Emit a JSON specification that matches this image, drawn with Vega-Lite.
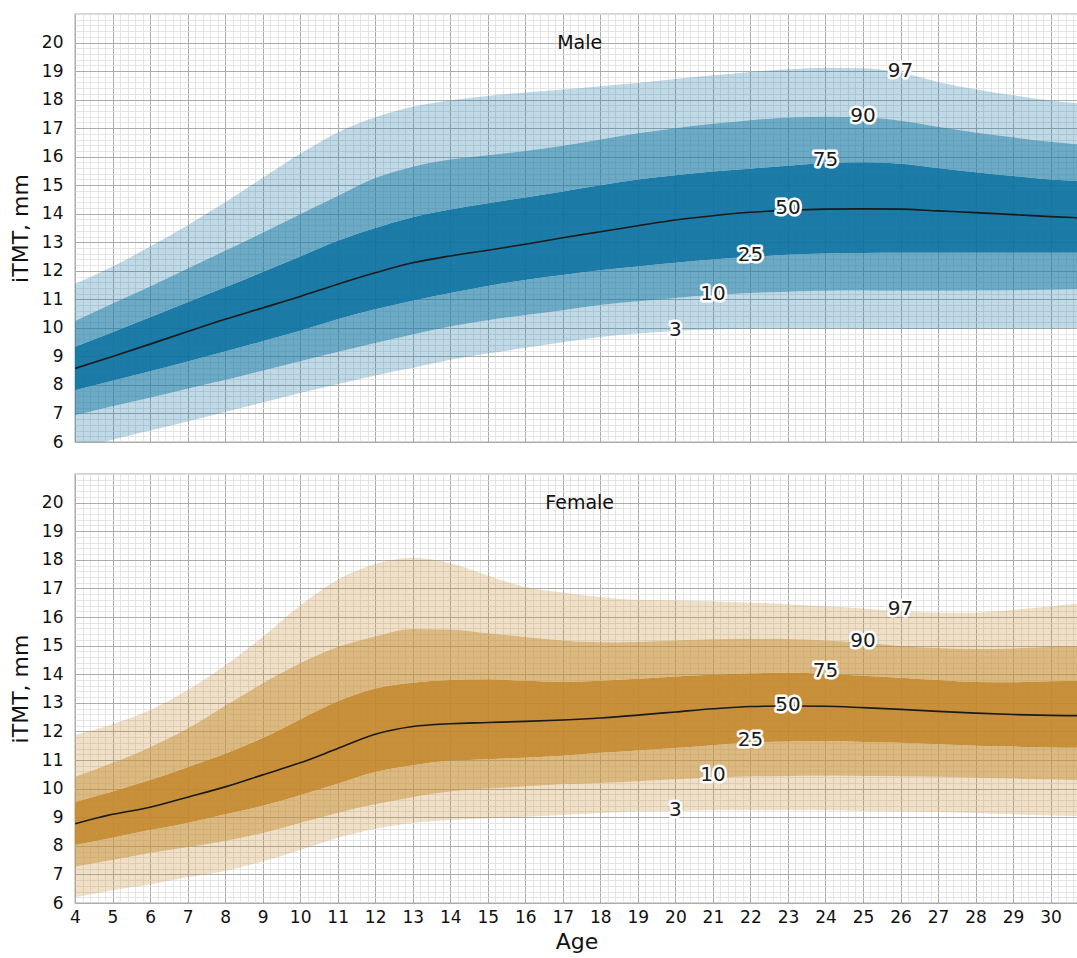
{
"$schema": "https://vega.github.io/schema/vega-lite/v6.json",
"autosize": {"type": "pad"},
"padding": {"left": 8, "top": 13, "right": 0, "bottom": 0},
"background": "white",
"bounds": "flush",
"spacing": 32,
"config": {
 "font": "DejaVu Sans",
 "view": {"stroke": "#c8c8c8", "strokeWidth": 1.5},
 "axis": {"labelFont": "DejaVu Sans", "titleFont": "DejaVu Sans", "labelFontSize": 17, "titleFontSize": 22, "titleFontWeight": "normal", "labelColor": "#111111", "titleColor": "#111111", "ticks": false, "domain": false, "labelFlush": false, "labelOverlap": false, "gridOpacity": 1}
},
"datasets": {
 "male": [
  {"age": 4, "p3": 5.77, "p10": 6.94, "p25": 7.81, "p50": 8.58, "p75": 9.34, "p90": 10.24, "p97": 11.54},
  {"age": 5, "p3": 6.08, "p10": 7.25, "p25": 8.15, "p50": 9.0, "p75": 9.85, "p90": 10.85, "p97": 12.15},
  {"age": 6, "p3": 6.4, "p10": 7.55, "p25": 8.48, "p50": 9.43, "p75": 10.37, "p90": 11.45, "p97": 12.85},
  {"age": 7, "p3": 6.72, "p10": 7.87, "p25": 8.82, "p50": 9.87, "p75": 10.9, "p90": 12.08, "p97": 13.6},
  {"age": 8, "p3": 7.05, "p10": 8.17, "p25": 9.17, "p50": 10.3, "p75": 11.42, "p90": 12.7, "p97": 14.4},
  {"age": 9, "p3": 7.38, "p10": 8.5, "p25": 9.53, "p50": 10.7, "p75": 11.96, "p90": 13.33, "p97": 15.25},
  {"age": 10, "p3": 7.72, "p10": 8.83, "p25": 9.9, "p50": 11.1, "p75": 12.5, "p90": 13.98, "p97": 16.1},
  {"age": 11, "p3": 8.02, "p10": 9.15, "p25": 10.3, "p50": 11.53, "p75": 13.05, "p90": 14.62, "p97": 16.85},
  {"age": 12, "p3": 8.33, "p10": 9.47, "p25": 10.65, "p50": 11.93, "p75": 13.5, "p90": 15.25, "p97": 17.38},
  {"age": 13, "p3": 8.6, "p10": 9.77, "p25": 10.95, "p50": 12.28, "p75": 13.88, "p90": 15.65, "p97": 17.75},
  {"age": 14, "p3": 8.88, "p10": 10.05, "p25": 11.22, "p50": 12.52, "p75": 14.15, "p90": 15.9, "p97": 17.98},
  {"age": 15, "p3": 9.1, "p10": 10.27, "p25": 11.47, "p50": 12.72, "p75": 14.37, "p90": 16.05, "p97": 18.13},
  {"age": 16, "p3": 9.3, "p10": 10.45, "p25": 11.68, "p50": 12.93, "p75": 14.57, "p90": 16.2, "p97": 18.25},
  {"age": 17, "p3": 9.5, "p10": 10.62, "p25": 11.85, "p50": 13.16, "p75": 14.78, "p90": 16.38, "p97": 18.35},
  {"age": 18, "p3": 9.68, "p10": 10.8, "p25": 12.02, "p50": 13.37, "p75": 15.0, "p90": 16.6, "p97": 18.47},
  {"age": 19, "p3": 9.8, "p10": 10.93, "p25": 12.15, "p50": 13.58, "p75": 15.2, "p90": 16.82, "p97": 18.58},
  {"age": 20, "p3": 9.89, "p10": 11.05, "p25": 12.28, "p50": 13.78, "p75": 15.35, "p90": 17.0, "p97": 18.72},
  {"age": 21, "p3": 9.94, "p10": 11.15, "p25": 12.4, "p50": 13.93, "p75": 15.48, "p90": 17.15, "p97": 18.85},
  {"age": 22, "p3": 9.97, "p10": 11.22, "p25": 12.48, "p50": 14.05, "p75": 15.58, "p90": 17.28, "p97": 18.97},
  {"age": 23, "p3": 9.98, "p10": 11.27, "p25": 12.56, "p50": 14.12, "p75": 15.68, "p90": 17.37, "p97": 19.06},
  {"age": 24, "p3": 9.98, "p10": 11.3, "p25": 12.61, "p50": 14.16, "p75": 15.78, "p90": 17.4, "p97": 19.12},
  {"age": 25, "p3": 9.97, "p10": 11.31, "p25": 12.62, "p50": 14.17, "p75": 15.8, "p90": 17.38, "p97": 19.1},
  {"age": 26, "p3": 9.96, "p10": 11.3, "p25": 12.63, "p50": 14.16, "p75": 15.75, "p90": 17.26, "p97": 18.95},
  {"age": 27, "p3": 9.96, "p10": 11.3, "p25": 12.63, "p50": 14.1, "p75": 15.6, "p90": 17.05, "p97": 18.62},
  {"age": 28, "p3": 9.97, "p10": 11.31, "p25": 12.63, "p50": 14.04, "p75": 15.45, "p90": 16.85, "p97": 18.36},
  {"age": 29, "p3": 9.98, "p10": 11.32, "p25": 12.63, "p50": 13.97, "p75": 15.32, "p90": 16.68, "p97": 18.15},
  {"age": 30, "p3": 9.99, "p10": 11.34, "p25": 12.63, "p50": 13.9, "p75": 15.2, "p90": 16.52, "p97": 17.97},
  {"age": 30.73, "p3": 10.0, "p10": 11.35, "p25": 12.63, "p50": 13.86, "p75": 15.15, "p90": 16.43, "p97": 17.87}
 ],
 "female": [
  {"age": 4, "p3": 6.2, "p10": 7.27, "p25": 8.03, "p50": 8.77, "p75": 9.53, "p90": 10.41, "p97": 11.87},
  {"age": 5, "p3": 6.45, "p10": 7.5, "p25": 8.28, "p50": 9.1, "p75": 9.9, "p90": 10.9, "p97": 12.25},
  {"age": 6, "p3": 6.65, "p10": 7.75, "p25": 8.55, "p50": 9.35, "p75": 10.3, "p90": 11.45, "p97": 12.75},
  {"age": 7, "p3": 6.9, "p10": 7.95, "p25": 8.8, "p50": 9.7, "p75": 10.75, "p90": 12.1, "p97": 13.45},
  {"age": 8, "p3": 7.12, "p10": 8.17, "p25": 9.1, "p50": 10.06, "p75": 11.22, "p90": 12.9, "p97": 14.3},
  {"age": 9, "p3": 7.45, "p10": 8.45, "p25": 9.4, "p50": 10.48, "p75": 11.77, "p90": 13.68, "p97": 15.3},
  {"age": 10, "p3": 7.85, "p10": 8.8, "p25": 9.77, "p50": 10.9, "p75": 12.42, "p90": 14.38, "p97": 16.4},
  {"age": 11, "p3": 8.28, "p10": 9.15, "p25": 10.17, "p50": 11.4, "p75": 13.05, "p90": 14.95, "p97": 17.3},
  {"age": 12, "p3": 8.6, "p10": 9.45, "p25": 10.58, "p50": 11.9, "p75": 13.5, "p90": 15.32, "p97": 17.85},
  {"age": 13, "p3": 8.8, "p10": 9.7, "p25": 10.82, "p50": 12.17, "p75": 13.7, "p90": 15.58, "p97": 18.07},
  {"age": 14, "p3": 8.9, "p10": 9.9, "p25": 10.97, "p50": 12.27, "p75": 13.8, "p90": 15.56, "p97": 17.88},
  {"age": 15, "p3": 8.96, "p10": 10.0, "p25": 11.03, "p50": 12.31, "p75": 13.82, "p90": 15.43, "p97": 17.45},
  {"age": 16, "p3": 9.02, "p10": 10.07, "p25": 11.08, "p50": 12.35, "p75": 13.77, "p90": 15.3, "p97": 17.05},
  {"age": 17, "p3": 9.08, "p10": 10.15, "p25": 11.15, "p50": 12.4, "p75": 13.73, "p90": 15.18, "p97": 16.86},
  {"age": 18, "p3": 9.15, "p10": 10.2, "p25": 11.25, "p50": 12.47, "p75": 13.77, "p90": 15.12, "p97": 16.7},
  {"age": 19, "p3": 9.2, "p10": 10.26, "p25": 11.33, "p50": 12.57, "p75": 13.84, "p90": 15.13, "p97": 16.6},
  {"age": 20, "p3": 9.22, "p10": 10.33, "p25": 11.42, "p50": 12.68, "p75": 13.92, "p90": 15.18, "p97": 16.58},
  {"age": 21, "p3": 9.24, "p10": 10.38, "p25": 11.52, "p50": 12.79, "p75": 13.98, "p90": 15.22, "p97": 16.55},
  {"age": 22, "p3": 9.25, "p10": 10.42, "p25": 11.6, "p50": 12.87, "p75": 14.03, "p90": 15.24, "p97": 16.5},
  {"age": 23, "p3": 9.25, "p10": 10.44, "p25": 11.65, "p50": 12.89, "p75": 14.05, "p90": 15.23, "p97": 16.45},
  {"age": 24, "p3": 9.24, "p10": 10.45, "p25": 11.66, "p50": 12.88, "p75": 14.02, "p90": 15.18, "p97": 16.38},
  {"age": 25, "p3": 9.22, "p10": 10.44, "p25": 11.63, "p50": 12.83, "p75": 13.95, "p90": 15.1, "p97": 16.3},
  {"age": 26, "p3": 9.2, "p10": 10.43, "p25": 11.6, "p50": 12.77, "p75": 13.88, "p90": 14.99, "p97": 16.2},
  {"age": 27, "p3": 9.18, "p10": 10.41, "p25": 11.55, "p50": 12.7, "p75": 13.8, "p90": 14.92, "p97": 16.15},
  {"age": 28, "p3": 9.15, "p10": 10.38, "p25": 11.5, "p50": 12.64, "p75": 13.73, "p90": 14.88, "p97": 16.15},
  {"age": 29, "p3": 9.1, "p10": 10.35, "p25": 11.47, "p50": 12.59, "p75": 13.72, "p90": 14.9, "p97": 16.25},
  {"age": 30, "p3": 9.06, "p10": 10.32, "p25": 11.44, "p50": 12.56, "p75": 13.75, "p90": 14.96, "p97": 16.38},
  {"age": 30.73, "p3": 9.04, "p10": 10.3, "p25": 11.43, "p50": 12.55, "p75": 13.76, "p90": 14.99, "p97": 16.47}
 ],
 "labels_male": [
  {"age": 26, "value": 19.0, "label": "97"},
  {"age": 25, "value": 17.42, "label": "90"},
  {"age": 24, "value": 15.88, "label": "75"},
  {"age": 23, "value": 14.2, "label": "50"},
  {"age": 22, "value": 12.55, "label": "25"},
  {"age": 21, "value": 11.19, "label": "10"},
  {"age": 20, "value": 9.94, "label": "3"}
 ],
 "labels_female": [
  {"age": 26, "value": 16.28, "label": "97"},
  {"age": 25, "value": 15.16, "label": "90"},
  {"age": 24, "value": 14.12, "label": "75"},
  {"age": 23, "value": 12.94, "label": "50"},
  {"age": 22, "value": 11.7, "label": "25"},
  {"age": 21, "value": 10.49, "label": "10"},
  {"age": 20, "value": 9.26, "label": "3"}
 ]
},
"vconcat": [
 {
  "width": 1003, "height": 428,
  "data": {"name": "male"},
  "resolve": {"axis": {"x": "independent", "y": "independent"}},
  "layer": [
   {"mark": {"type": "point", "opacity": 0},
    "encoding": {
     "x": {"field": "age", "type": "quantitative", "scale": {"domain": [4, 30.73], "nice": false, "zero": false}, "axis": {"orient": "top", "tickCount": 134, "grid": true, "gridColor": "#dedede", "gridWidth": 0.8, "labels": false, "ticks": false, "domain": false, "title": null}},
     "y": {"field": "p50", "type": "quantitative", "scale": {"domain": [6, 21], "nice": false, "zero": false}, "axis": {"orient": "right", "tickCount": 75, "grid": true, "gridColor": "#dedede", "gridWidth": 0.8, "labels": false, "ticks": false, "domain": false, "title": null}}
    }},
   {"mark": {"type": "area", "interpolate": "monotone", "clip": true, "color": "#1a7aa6", "opacity": 0.28},
    "encoding": {
     "x": {"field": "age", "type": "quantitative", "axis": {"orient": "bottom", "values": [4,5,6,7,8,9,10,11,12,13,14,15,16,17,18,19,20,21,22,23,24,25,26,27,28,29,30], "grid": true, "gridColor": "#ababab", "gridWidth": 1, "labels": false, "title": null}},
     "y": {"field": "p3", "type": "quantitative", "axis": {"orient": "left", "values": [6,7,8,9,10,11,12,13,14,15,16,17,18,19,20], "grid": true, "gridColor": "#ababab", "gridWidth": 1, "title": "iTMT, mm", "labelPadding": 12, "titlePadding": 9}},
     "y2": {"field": "p10"}
    }},
   {"mark": {"type": "area", "interpolate": "monotone", "clip": true, "color": "#1a7aa6", "opacity": 0.64},
    "encoding": {"x": {"field": "age", "type": "quantitative", "axis": null}, "y": {"field": "p10", "type": "quantitative", "axis": null}, "y2": {"field": "p25"}}},
   {"mark": {"type": "area", "interpolate": "monotone", "clip": true, "color": "#0a70a0", "opacity": 0.92},
    "encoding": {"x": {"field": "age", "type": "quantitative", "axis": null}, "y": {"field": "p25", "type": "quantitative", "axis": null}, "y2": {"field": "p75"}}},
   {"mark": {"type": "area", "interpolate": "monotone", "clip": true, "color": "#1a7aa6", "opacity": 0.64},
    "encoding": {"x": {"field": "age", "type": "quantitative", "axis": null}, "y": {"field": "p75", "type": "quantitative", "axis": null}, "y2": {"field": "p90"}}},
   {"mark": {"type": "area", "interpolate": "monotone", "clip": true, "color": "#1a7aa6", "opacity": 0.28},
    "encoding": {"x": {"field": "age", "type": "quantitative", "axis": null}, "y": {"field": "p90", "type": "quantitative", "axis": null}, "y2": {"field": "p97"}}},
   {"mark": {"type": "line", "interpolate": "monotone", "clip": true, "color": "#1a1a1a", "strokeWidth": 1.6},
    "encoding": {"x": {"field": "age", "type": "quantitative", "axis": null}, "y": {"field": "p50", "type": "quantitative", "axis": null}}},
   {"data": {"name": "labels_male"},
    "mark": {"type": "text", "font": "DejaVu Sans", "fontSize": 20, "fill": "white", "stroke": "white", "strokeWidth": 5, "strokeJoin": "round", "baseline": "middle", "align": "center"},
    "encoding": {"x": {"field": "age", "type": "quantitative", "axis": null}, "y": {"field": "value", "type": "quantitative", "axis": null}, "text": {"field": "label"}}},
   {"data": {"name": "labels_male"},
    "mark": {"type": "text", "font": "DejaVu Sans", "fontSize": 20, "fill": "#1a1a1a", "baseline": "middle", "align": "center"},
    "encoding": {"x": {"field": "age", "type": "quantitative", "axis": null}, "y": {"field": "value", "type": "quantitative", "axis": null}, "text": {"field": "label"}}},
   {"data": {"values": [{"panel": "Male"}]},
    "mark": {"type": "text", "font": "DejaVu Sans", "fontSize": 19, "fill": "#111111", "baseline": "middle", "align": "center"},
    "encoding": {"x": {"datum": 17.45, "type": "quantitative", "axis": null}, "y": {"datum": 20.0, "type": "quantitative", "axis": null}, "text": {"field": "panel"}}}
  ]
 },
 {
  "width": 1003, "height": 429,
  "data": {"name": "female"},
  "resolve": {"axis": {"x": "independent", "y": "independent"}},
  "layer": [
   {"mark": {"type": "point", "opacity": 0},
    "encoding": {
     "x": {"field": "age", "type": "quantitative", "scale": {"domain": [4, 30.73], "nice": false, "zero": false}, "axis": {"orient": "top", "tickCount": 134, "grid": true, "gridColor": "#dedede", "gridWidth": 0.8, "labels": false, "ticks": false, "domain": false, "title": null}},
     "y": {"field": "p50", "type": "quantitative", "scale": {"domain": [6, 21], "nice": false, "zero": false}, "axis": {"orient": "right", "tickCount": 75, "grid": true, "gridColor": "#dedede", "gridWidth": 0.8, "labels": false, "ticks": false, "domain": false, "title": null}}
    }},
   {"mark": {"type": "area", "interpolate": "monotone", "clip": true, "color": "#c8913a", "opacity": 0.28},
    "encoding": {
     "x": {"field": "age", "type": "quantitative", "axis": {"orient": "bottom", "values": [4,5,6,7,8,9,10,11,12,13,14,15,16,17,18,19,20,21,22,23,24,25,26,27,28,29,30], "grid": true, "gridColor": "#ababab", "gridWidth": 1, "title": "Age", "labelPadding": 6, "titlePadding": 6}},
     "y": {"field": "p3", "type": "quantitative", "axis": {"orient": "left", "values": [6,7,8,9,10,11,12,13,14,15,16,17,18,19,20], "grid": true, "gridColor": "#ababab", "gridWidth": 1, "title": "iTMT, mm", "labelPadding": 12, "titlePadding": 9}},
     "y2": {"field": "p10"}
    }},
   {"mark": {"type": "area", "interpolate": "monotone", "clip": true, "color": "#c8913a", "opacity": 0.64},
    "encoding": {"x": {"field": "age", "type": "quantitative", "axis": null}, "y": {"field": "p10", "type": "quantitative", "axis": null}, "y2": {"field": "p25"}}},
   {"mark": {"type": "area", "interpolate": "monotone", "clip": true, "color": "#c38729", "opacity": 0.92},
    "encoding": {"x": {"field": "age", "type": "quantitative", "axis": null}, "y": {"field": "p25", "type": "quantitative", "axis": null}, "y2": {"field": "p75"}}},
   {"mark": {"type": "area", "interpolate": "monotone", "clip": true, "color": "#c8913a", "opacity": 0.64},
    "encoding": {"x": {"field": "age", "type": "quantitative", "axis": null}, "y": {"field": "p75", "type": "quantitative", "axis": null}, "y2": {"field": "p90"}}},
   {"mark": {"type": "area", "interpolate": "monotone", "clip": true, "color": "#c8913a", "opacity": 0.28},
    "encoding": {"x": {"field": "age", "type": "quantitative", "axis": null}, "y": {"field": "p90", "type": "quantitative", "axis": null}, "y2": {"field": "p97"}}},
   {"mark": {"type": "line", "interpolate": "monotone", "clip": true, "color": "#1a1a1a", "strokeWidth": 1.6},
    "encoding": {"x": {"field": "age", "type": "quantitative", "axis": null}, "y": {"field": "p50", "type": "quantitative", "axis": null}}},
   {"data": {"name": "labels_female"},
    "mark": {"type": "text", "font": "DejaVu Sans", "fontSize": 20, "fill": "white", "stroke": "white", "strokeWidth": 5, "strokeJoin": "round", "baseline": "middle", "align": "center"},
    "encoding": {"x": {"field": "age", "type": "quantitative", "axis": null}, "y": {"field": "value", "type": "quantitative", "axis": null}, "text": {"field": "label"}}},
   {"data": {"name": "labels_female"},
    "mark": {"type": "text", "font": "DejaVu Sans", "fontSize": 20, "fill": "#1a1a1a", "baseline": "middle", "align": "center"},
    "encoding": {"x": {"field": "age", "type": "quantitative", "axis": null}, "y": {"field": "value", "type": "quantitative", "axis": null}, "text": {"field": "label"}}},
   {"data": {"values": [{"panel": "Female"}]},
    "mark": {"type": "text", "font": "DejaVu Sans", "fontSize": 19, "fill": "#111111", "baseline": "middle", "align": "center"},
    "encoding": {"x": {"datum": 17.45, "type": "quantitative", "axis": null}, "y": {"datum": 20.0, "type": "quantitative", "axis": null}, "text": {"field": "panel"}}}
  ]
 }
]
}
